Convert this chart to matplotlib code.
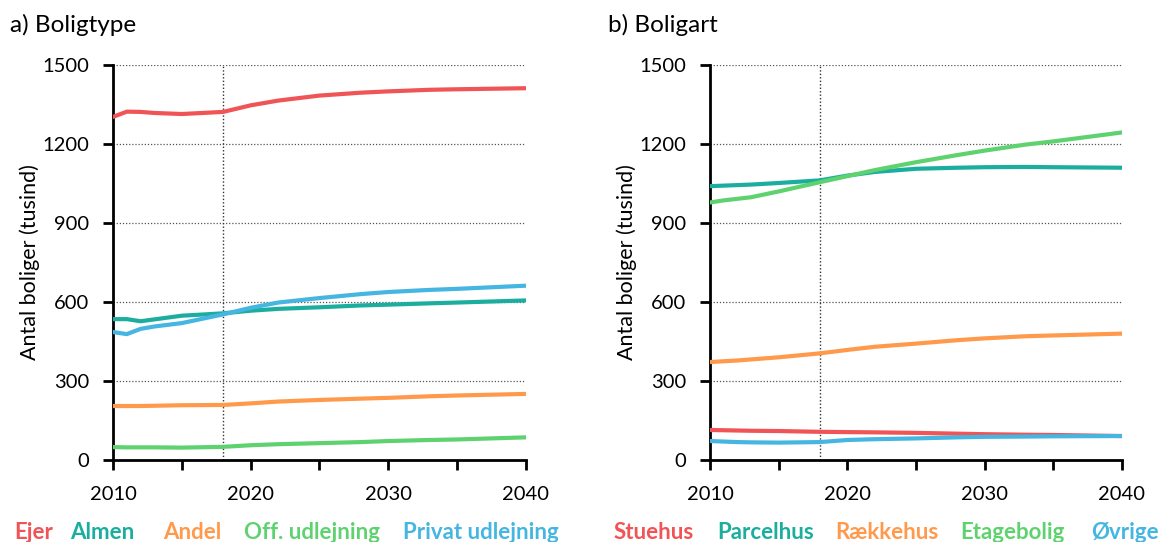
import numpy as np
import matplotlib.pyplot as plt

plt.rcParams['font.family'] = ['Lato', 'DejaVu Sans']

years = [2010, 2011, 2012, 2013, 2015, 2018, 2020, 2022, 2025, 2028, 2030, 2033, 2035, 2040]

# a) Boligtype
ejer = [1303, 1323, 1322, 1318, 1314, 1322, 1347, 1365, 1384, 1395, 1400, 1406, 1408, 1412]
almen = [535, 535, 527, 534, 548, 557, 567, 574, 580, 587, 590, 595, 598, 606]
andel = [205, 205, 205, 206, 208, 209, 215, 222, 228, 233, 236, 242, 245, 251]
off_udl = [49, 48, 48, 48, 47, 50, 56, 60, 64, 68, 72, 76, 78, 86]
privat = [486, 478, 498, 507, 520, 553, 578, 598, 615, 630, 638, 646, 650, 662]

# b) Boligart
stuehus = [114, 113, 112, 111, 110, 107, 106, 105, 103, 100, 98, 96, 95, 91]
parcelhus = [1040, 1042, 1044, 1046, 1052, 1062, 1080, 1094, 1106, 1110, 1112, 1113, 1112, 1110]
raekkehus = [372, 375, 378, 382, 390, 405, 418, 430, 442, 455, 462, 470, 473, 480]
etage = [978, 986, 992, 998, 1020, 1055, 1078, 1101, 1131, 1158, 1175, 1198, 1210, 1244]
oevrige = [72, 70, 68, 67, 66, 68, 76, 79, 82, 86, 88, 89, 90, 91]

red = '#F05456'
teal = '#1BAE9F'
orange = '#FF9A4C'
green = '#5FD270'
blue = '#45B5E1'

panels = [
    ('a) Boligtype', [('Ejer', ejer, red), ('Almen', almen, teal), ('Andel', andel, orange),
                      ('Off. udlejning', off_udl, green), ('Privat udlejning', privat, blue)]),
    ('b) Boligart', [('Stuehus', stuehus, red), ('Parcelhus', parcelhus, teal), ('Rækkehus', raekkehus, orange),
                     ('Etagebolig', etage, green), ('Øvrige', oevrige, blue)]),
]

fig = plt.figure(figsize=(11.58, 5.42), dpi=100)
ax_pos = [[0.0976, 0.1513, 0.3566, 0.7287], [0.6131, 0.1513, 0.3558, 0.7287]]
title_x = [0.009, 0.525]
legend_x = [[0.0121, 0.0604, 0.1408, 0.2107, 0.348], [0.5294, 0.6192, 0.7211, 0.829, 0.9421]]

for i, (title, series) in enumerate(panels):
    ax = fig.add_axes(ax_pos[i])
    for name, vals, col in series:
        ax.plot(years, vals, color=col, lw=3, solid_capstyle='round', zorder=3)
    ax.set_xlim(2010, 2040)
    ax.set_ylim(0, 1500)
    ax.set_yticks([0, 300, 600, 900, 1200, 1500])
    ax.set_xticks([2010, 2020, 2030, 2040])
    ax.set_xticks([2015, 2025, 2035], minor=True)
    for yv in [300, 600, 900, 1200, 1500]:
        ax.axhline(yv, color='#555555', lw=0.9, ls=(0, (1, 1.5)), zorder=1)
    ax.axvline(2018, color='#333333', lw=1.0, ls=(0, (1, 1.5)), zorder=1)
    for s in ['top', 'right']:
        ax.spines[s].set_visible(False)
    for s in ['left', 'bottom']:
        ax.spines[s].set_linewidth(2)
    ax.tick_params(axis='both', which='both', width=2, length=7, labelsize=14.5, direction='out')
    ax.tick_params(axis='x', pad=12)
    ax.tick_params(axis='y', pad=10)
    ax.set_ylabel('Antal boliger (tusind)', fontsize=15.5, labelpad=2)
    fig.text(title_x[i], 0.954, title, fontsize=17.5, va='center', ha='left')
    for (name, vals, col), lx in zip(series, legend_x[i]):
        fig.text(lx, 0.018, name, color=col, fontsize=16, fontweight='bold', va='center', ha='left')

fig.savefig('out.png', dpi=100)
